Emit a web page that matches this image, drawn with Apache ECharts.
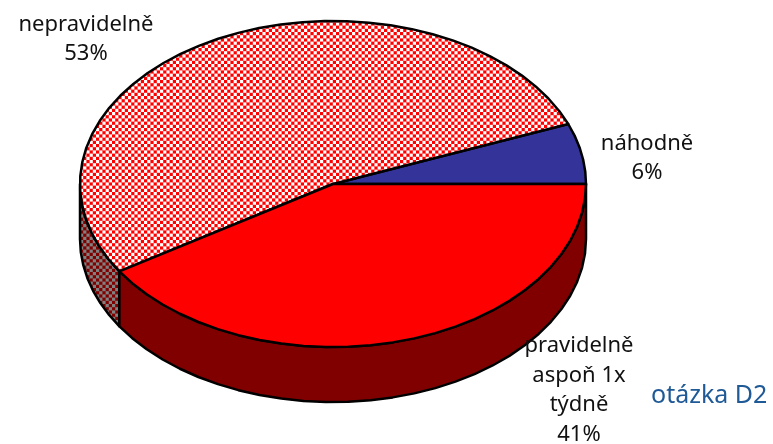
<!DOCTYPE html>
<html>
<head>
<meta charset="utf-8">
<style>
  html, body { margin: 0; padding: 0; background: #fff; }
  #chart { width: 773px; height: 444px; }
</style>
<script src="https://cdn.jsdelivr.net/npm/echarts@6/dist/echarts.min.js"></script>
</head>
<body>
<div id="chart"></div>
<script>
const categories = ['náhodně', 'nepravidelně', 'pravidelně\naspoň 1x\ntýdně'];
const values = [6, 53, 41];
const chartTitle = 'otázka D2';

// pie geometry, the reference is a flattened 3d pie
const pie = { cx: 333, cy: 184, rx: 253, ry: 163, depth: 55 };
const labelCentres = [[647, 158], [86, 39], [579, 390]];
const total = values.reduce((a, b) => a + b, 0);

// true checkerboard, 10 cells of 3.2px in a 32px tile
const checker = (light, dark) => {
  const c = document.createElement('canvas');
  c.width = 32;
  c.height = 32;
  const ctx = c.getContext('2d');
  ctx.fillStyle = dark;
  ctx.fillRect(0, 0, 32, 32);
  ctx.fillStyle = light;
  for (let i = 0; i < 10; i++) {
    for (let j = 0; j < 10; j++) {
      if ((i + j) % 2 === 0) ctx.fillRect(i * 3.2, j * 3.2, 3.2, 3.2);
    }
  }
  return c;
};

const topFills = [
  '#333399',
  { image: checker('#ffffff', '#ff0000'), repeat: 'repeat' },
  '#ff0000'
];
const sideFills = [
  '#1a1a4d',
  { image: checker('#808080', '#800000'), repeat: 'repeat' },
  '#800000'
];

const point = (t, dy) => [
  pie.cx + pie.rx * Math.cos(t),
  pie.cy - pie.ry * Math.sin(t) + (dy || 0)
];

const arc = (from, to, dy) => {
  const pts = [];
  const steps = Math.max(2, Math.ceil((to - from) / 0.09));
  for (let i = 0; i <= steps; i++) {
    pts.push(point(from + ((to - from) * i) / steps, dy));
  }
  return pts;
};

const renderSlice = (params, api) => {
  const i = params.dataIndex;
  const before = values.slice(0, i).reduce((a, b) => a + b, 0);
  const start = (before / total) * Math.PI * 2;
  const end = ((before + api.value(0)) / total) * Math.PI * 2;
  const lineStyle = { stroke: '#000', lineWidth: 2.5, lineJoin: 'round' };
  const children = [];

  // only the front half has a visible wall
  const wallFrom = Math.max(start, Math.PI);
  if (end > wallFrom) {
    const lower = arc(wallFrom, end, pie.depth).reverse();
    children.push({
      type: 'polygon',
      z2: 1,
      shape: { points: arc(wallFrom, end).concat(lower) },
      style: { fill: sideFills[i], ...lineStyle }
    });
  }

  children.push({
    type: 'polygon',
    z2: 2,
    shape: { points: [[pie.cx, pie.cy]].concat(arc(start, end)) },
    style: { fill: topFills[i], ...lineStyle }
  });

  children.push({
    type: 'text',
    z2: 3,
    style: {
      x: labelCentres[i][0],
      y: labelCentres[i][1],
      text: `${categories[i]}\n${api.value(0)}%`,
      align: 'center',
      verticalAlign: 'middle',
      fill: '#111',
      font: '22px "Noto Sans"',
      lineHeight: 29.5
    }
  });

  return { type: 'group', children };
};

const chart = echarts.init(document.getElementById('chart'));
chart.setOption({
  animation: false,
  title: {
    text: chartTitle,
    left: 646,
    top: 378,
    textStyle: {
      color: '#1f5a96',
      fontFamily: 'Noto Sans',
      fontSize: 25,
      fontWeight: 'normal'
    }
  },
  series: [
    {
      type: 'custom',
      coordinateSystem: 'none',
      data: values.map((v) => [v]),
      renderItem: renderSlice
    }
  ]
});
</script>
</body>
</html>
